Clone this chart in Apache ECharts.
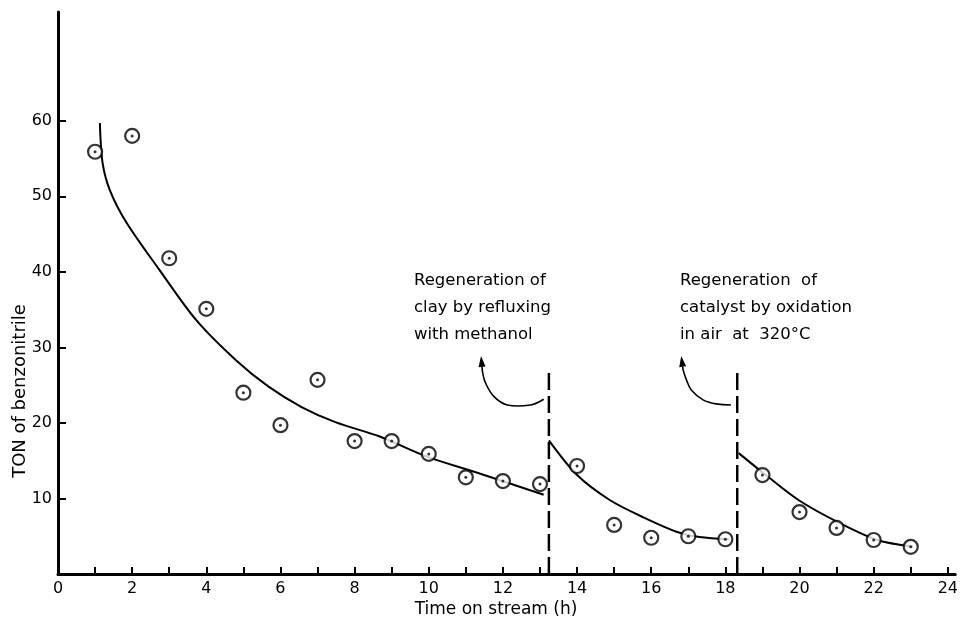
<!DOCTYPE html>
<html>
<head>
<meta charset="utf-8">
<title>TON of benzonitrile vs time on stream</title>
<script src="https://cdn.jsdelivr.net/npm/echarts@6/dist/echarts.min.js"></script>
<style>
  html, body { margin: 0; padding: 0; background: #fff; }
  #chart { width: 961px; height: 621px; }
</style>
</head>
<body>
<div id="chart"></div>
<script>
// Measured turnover numbers (TON) of benzonitrile against time on stream
const hours = [1, 2, 3, 4, 5, 6, 7, 8, 9, 10, 11, 12, 13, 14, 15, 16, 17, 18, 19, 20, 21, 22, 23];
const ton = [55.9, 58.0, 41.8, 35.1, 24.0, 19.7, 25.7, 17.6, 17.6, 15.9, 12.8, 12.3, 11.9,
             14.3, 6.5, 4.8, 5.0, 4.6, 13.1, 8.2, 6.1, 4.5, 3.6];

// Hand-drawn decay curves, one per catalyst cycle: [hours, TON]
const cycle1Curve = [[1.13, 59.7], [1.2, 54.5], [1.4, 50.8], [1.85, 46.5], [2.73, 40.3],
                     [3.73, 33.6], [4.8, 28.3], [5.68, 24.8], [6.57, 22.1], [7.48, 20.1],
                     [8.68, 18.2], [9.97, 15.5], [11.31, 13.4], [13.1, 10.5]];
const cycle2Curve = [[13.24, 17.7], [14.0, 13.1], [14.88, 9.8], [15.79, 7.5], [16.68, 5.6],
                     [17.3, 4.9], [18.1, 4.6]];
const cycle3Curve = [[18.36, 16.0], [19.09, 13.1], [19.97, 9.8], [21.1, 6.7], [22.1, 4.5],
                     [23.06, 3.6]];

// Regeneration events (hours) and height of their marker lines (TON)
const regenTimes = [13.24, 18.32];
const regenLineTop = 27.3;

// Curved pointers from each regeneration line up to its note: path then tip
const pointerPaths = [
  [[13.10, 23.14], [12.74, 22.38], [12.12, 22.38], [11.76, 23.48], [11.53, 25.30], [11.45, 26.75]],
  [[18.15, 22.38], [17.75, 22.52], [17.40, 23.05], [17.08, 24.37], [16.95, 25.70], [16.86, 27.02]]
];
const pointerTips = [[11.41, 28.87], [16.81, 28.87]];

// Notes shown above the regeneration lines
const regenNotes = [
  ['Regeneration of', 'clay by refluxing', 'with methanol'],
  ['Regeneration  of', 'catalyst by oxidation', 'in air  at  320°C']
];

// Axis ticks and labels
const xTickValues = [1, 2, 3, 4, 5, 6, 7, 8, 9, 10, 11, 12, 13, 14, 15, 16, 17, 18, 19, 20, 21, 22, 23, 24];
const xLabelValues = [0, 2, 4, 6, 8, 10, 12, 14, 16, 18, 20, 22, 24];
const yTickValues = [10, 20, 30, 40, 50, 60];
const xTitle = 'Time on stream (h)';
const yTitle = 'TON of benzonitrile';

const FONT = "'DejaVu Sans', 'Liberation Sans', sans-serif";
const INK = '#000';

const chart = echarts.init(document.getElementById('chart'), null, { renderer: 'canvas' });

function curveSeries(points) {
  return {
    type: 'line',
    data: points,
    smooth: 0.3,
    showSymbol: false,
    silent: true,
    z: 2,
    lineStyle: { color: INK, width: 2 }
  };
}

function regenLineSeries(t) {
  return {
    type: 'line',
    data: [[t, 0], [t, regenLineTop]],
    showSymbol: false,
    silent: true,
    z: 1,
    lineStyle: { color: INK, width: 2.5, type: [17, 6] }
  };
}

// Pointer arrows drawn through the cartesian coordinate system
function renderPointer(params, api) {
  const idx = params.dataIndex;
  const pts = pointerPaths[idx].map(p => api.coord(p));
  const tip = api.coord(pointerTips[idx]);
  const last = pts[pts.length - 1];
  let dx = tip[0] - last[0], dy = tip[1] - last[1];
  const len = Math.hypot(dx, dy) || 1;
  dx /= len; dy /= len;
  const headLen = 11, headHalf = 3.5;
  const bx = tip[0] - dx * headLen, by = tip[1] - dy * headLen;
  const nx = -dy, ny = dx;
  return {
    type: 'group',
    children: [
      {
        type: 'polyline',
        shape: { points: pts.concat([[bx, by]]), smooth: 0.4 },
        style: { stroke: INK, lineWidth: 1.6, fill: null }
      },
      {
        type: 'polygon',
        shape: { points: [tip, [bx + nx * headHalf, by + ny * headHalf], [bx - nx * headHalf, by - ny * headHalf]] },
        style: { fill: INK }
      }
    ]
  };
}

const noteGraphics = [];
const noteLeft = [414, 680];
const noteRows = [281, 308, 335];
regenNotes.forEach((lines, i) => {
  lines.forEach((line, r) => {
    noteGraphics.push({
      type: 'text',
      x: noteLeft[i],
      y: noteRows[r],
      style: { text: line, font: '16.5px ' + FONT, fill: INK, align: 'left', verticalAlign: 'middle' }
    });
  });
});

const option = {
  animation: false,
  backgroundColor: '#fff',
  grid: { left: 58, right: 0, top: 12, bottom: 47, containLabel: false },
  xAxis: {
    type: 'value',
    min: 0,
    max: 24.2,
    interval: 1,
    splitLine: { show: false },
    axisLine: { lineStyle: { color: INK, width: 3 } },
    axisTick: { inside: true, length: 7, customValues: xTickValues, lineStyle: { color: INK, width: 2 } },
    axisLabel: { customValues: xLabelValues, color: INK, fontFamily: FONT, fontSize: 16, margin: 7 }
  },
  yAxis: {
    type: 'value',
    min: 0,
    max: 74.4,
    interval: 10,
    splitLine: { show: false },
    axisLine: { lineStyle: { color: INK, width: 3 } },
    axisTick: { inside: true, length: 8, customValues: yTickValues, lineStyle: { color: INK, width: 2 } },
    axisLabel: { customValues: yTickValues, color: INK, fontFamily: FONT, fontSize: 16, margin: 6 }
  },
  graphic: [
    {
      type: 'text',
      x: 20,
      y: 391,
      rotation: Math.PI / 2,
      style: { text: yTitle, font: '18px ' + FONT, fill: INK, align: 'center', verticalAlign: 'middle' }
    },
    {
      type: 'text',
      x: 496,
      y: 610,
      style: { text: xTitle, font: '17px ' + FONT, fill: INK, align: 'center', verticalAlign: 'middle' }
    }
  ].concat(noteGraphics),
  series: [
    curveSeries(cycle1Curve),
    curveSeries(cycle2Curve),
    curveSeries(cycle3Curve),
    regenLineSeries(regenTimes[0]),
    regenLineSeries(regenTimes[1]),
    {
      type: 'custom',
      coordinateSystem: 'cartesian2d',
      data: pointerTips,
      renderItem: renderPointer,
      clip: false,
      silent: true,
      z: 3
    },
    {
      type: 'scatter',
      data: hours.map((h, i) => [h, ton[i]]),
      symbol: 'circle',
      symbolSize: 14,
      silent: true,
      z: 4,
      itemStyle: { color: '#fff', borderColor: INK, borderWidth: 2.2 }
    },
    {
      type: 'scatter',
      data: hours.map((h, i) => [h, ton[i]]),
      symbol: 'circle',
      symbolSize: 3,
      silent: true,
      z: 5,
      itemStyle: { color: INK }
    }
  ]
};

chart.setOption(option);
</script>
</body>
</html>
